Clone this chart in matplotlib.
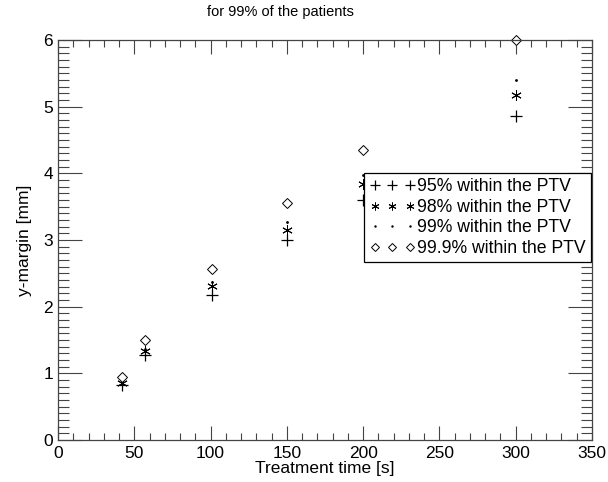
import matplotlib
matplotlib.use("Agg")
import matplotlib.pyplot as plt
from matplotlib.ticker import MultipleLocator

plt.rcParams['font.family'] = ['Liberation Sans', 'DejaVu Sans']

# treatment times [s] and y-margins [mm]
times = [42, 57, 101, 150, 200, 300]
m95 = [0.82, 1.28, 2.18, 3.00, 3.60, 4.86]
m98 = [0.86, 1.33, 2.31, 3.15, 3.84, 5.18]
m99 = [0.89, 1.37, 2.37, 3.27, 3.98, 5.40]
m999 = [0.95, 1.50, 2.57, 3.55, 4.35, 6.00]
labels = ["95% within the PTV", "98% within the PTV",
          "99% within the PTV", "99.9% within the PTV"]

fig = plt.figure(figsize=(6.08, 4.82), dpi=100)
ax = fig.add_axes([0.0954, 0.0871, 0.8783, 0.8299])

ax.plot(times, m95, ls='none', marker='+', ms=9, mew=0.9, color='black', label=labels[0], clip_on=False)
ax.plot(times, m98, ls='none', marker=(6, 2, 0), ms=7.5, mew=0.7, color='black', label=labels[1], clip_on=False)
ax.plot(times, m99, ls='none', marker='.', ms=2, color='black', label=labels[2], clip_on=False)
ax.plot(times, m999, ls='none', marker='D', ms=5.5, mew=0.7, mfc='white', mec='black',
        label=labels[3], clip_on=False)

ax.set_xlim(0, 350)
ax.set_ylim(0, 6)
ax.xaxis.set_major_locator(MultipleLocator(50))
ax.xaxis.set_minor_locator(MultipleLocator(10))
ax.yaxis.set_major_locator(MultipleLocator(1))
ax.yaxis.set_minor_locator(MultipleLocator(0.1))
ax.tick_params(axis='both', which='both', direction='in', top=True, right=True,
               color='#444444', labelsize=12.5)
ax.tick_params(axis='x', which='major', length=10, width=0.8)
ax.tick_params(axis='x', which='minor', length=5, width=0.8)
ax.tick_params(axis='y', which='major', length=17, width=0.8)
ax.tick_params(axis='y', which='minor', length=8, width=0.8)
ax.tick_params(axis='x', pad=4)
for s in ax.spines.values():
    s.set_color('#444444')
    s.set_linewidth(0.9)

ax.set_xlabel("Treatment time [s]", fontsize=12.5, labelpad=0)
ax.set_ylabel("y-margin [mm]", fontsize=12.5, labelpad=8)
fig.text(280 / 608, 1 - 12 / 482, "for 99% of the patients", fontsize=10.5,
         ha='center', va='center')

leg = ax.legend(loc='upper left', bbox_to_anchor=(0.573, 0.6675), borderaxespad=0,
                numpoints=3, markerscale=0.75, handlelength=2.6, handletextpad=0.1,
                fancybox=False, framealpha=1, edgecolor='black', fontsize=12.7,
                labelspacing=0.2, borderpad=0.3)
leg.get_frame().set_linewidth(0.9)

fig.savefig("out.png", dpi=100)
